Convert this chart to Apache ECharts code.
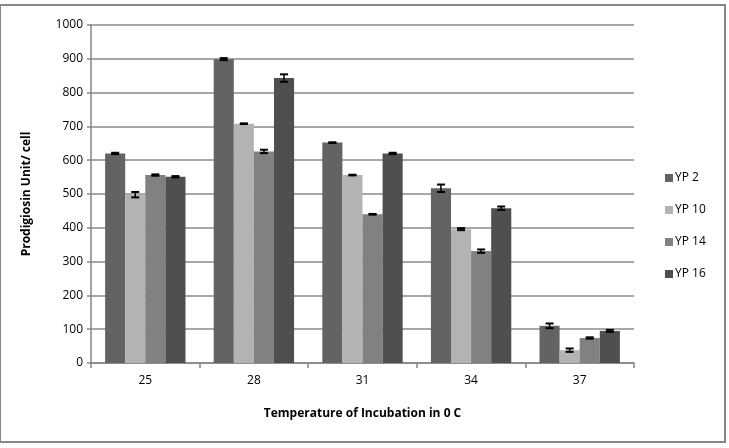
<!DOCTYPE html>
<html>
<head>
<meta charset="utf-8">
<script src="https://cdn.jsdelivr.net/npm/echarts@6/dist/echarts.min.js"></script>
<style>html,body{margin:0;padding:0;background:#fff}#c{width:729px;height:448px}</style>
</head>
<body>
<div id="c"></div>
<script>
var categories = ['25', '28', '31', '34', '37'];
var seriesNames = ['YP 2', 'YP 10', 'YP 14', 'YP 16'];
var yp2 = [620, 899, 652, 517, 110];
var yp10 = [498, 708, 556, 396, 38];
var yp14 = [556, 626, 440, 331, 74];
var yp16 = [551, 843, 620, 458, 95];
var err2 = [2, 3, 1, 11, 7];
var err10 = [8, 1, 1, 3, 5];
var err14 = [2, 5, 1, 5, 2];
var err16 = [2, 11, 2, 5, 3];
var colors = ['#636363', '#b3b3b3', '#818181', '#4f4f4f'];

var values = [yp2, yp10, yp14, yp16];
var errors = [err2, err10, err14, err16];
var CAT_GAP = 0.26;

var series = [];
values.forEach(function (v, i) {
  series.push({
    name: seriesNames[i], type: 'bar', data: v,
    barGap: '0%', barCategoryGap: (CAT_GAP * 100) + '%',
    itemStyle: { color: colors[i] }, z: 2
  });
});
values.forEach(function (v, i) {
  var d = v.map(function (val, k) { return [k, val, errors[i][k]]; });
  series.push({
    type: 'custom', z: 5, silent: true,
    data: d,
    renderItem: function (params, api) {
      var k = api.value(0), val = api.value(1), e = api.value(2);
      var band = api.size([1, 0])[0];
      var bw = band * (1 - CAT_GAP) / 4;
      var c = api.coord([k, val]);
      var x = c[0] + (i - 1.5) * bw;
      var top = api.coord([k, val + e])[1];
      var bot = api.coord([k, val - e])[1];
      var hw = 4;
      var st = { stroke: '#000', lineWidth: 1.5 };
      return {
        type: 'group', children: [
          { type: 'line', shape: { x1: x, y1: top, x2: x, y2: bot }, style: st },
          { type: 'line', shape: { x1: x - hw, y1: top, x2: x + hw, y2: top }, style: { stroke: '#000', lineWidth: 2 } },
          { type: 'line', shape: { x1: x - hw, y1: bot, x2: x + hw, y2: bot }, style: { stroke: '#000', lineWidth: 2 } }
        ]
      };
    }
  });
});

var chart = echarts.init(document.getElementById('c'), null, { renderer: 'canvas' });
var font = '"Open Sans", "DejaVu Sans", sans-serif';
chart.setOption({
  animation: false,
  textStyle: { fontFamily: font },
  graphic: [{
    type: 'rect', shape: { x: 0, y: 5, width: 725, height: 437 },
    style: { fill: 'none', stroke: '#878787', lineWidth: 2 }, z: 0
  }],
  grid: { left: 91, right: 95, top: 25, bottom: 85 },
  legend: {
    orient: 'vertical', left: 660, top: 167,
    itemWidth: 8, itemHeight: 8, itemGap: 20, icon: 'rect',
    data: seriesNames,
    textStyle: { fontSize: 12, color: '#000', fontFamily: font, padding: [0, 0, 0, -3] }
  },
  xAxis: {
    type: 'category', data: categories,
    name: 'Temperature of Incubation in 0 C', nameLocation: 'middle', nameGap: 45,
    nameTextStyle: { fontSize: 12, fontWeight: 'bold', color: '#000', fontFamily: font },
    axisLine: { lineStyle: { color: '#868686', width: 1.5 } },
    axisTick: { show: true, length: 5, lineStyle: { color: '#868686', width: 1.5 } },
    axisLabel: { fontSize: 12, color: '#000', margin: 12, fontFamily: font }
  },
  yAxis: {
    type: 'value', min: 0, max: 1000, interval: 100,
    name: 'Prodigiosin Unit/ cell', nameLocation: 'middle', nameGap: 58, nameRotate: 90,
    nameTextStyle: { fontSize: 12, fontWeight: 'bold', color: '#000', fontFamily: font },
    axisLine: { show: true, lineStyle: { color: '#868686', width: 1.5 } },
    axisTick: { show: true, length: 4, lineStyle: { color: '#868686', width: 1.5 } },
    axisLabel: { fontSize: 12, color: '#000', margin: 8, fontFamily: font, formatter: function (v) { return String(v); } },
    splitLine: { lineStyle: { color: '#8a8a8a', width: 1.5 } }
  },
  series: series
});
</script>
</body>
</html>
